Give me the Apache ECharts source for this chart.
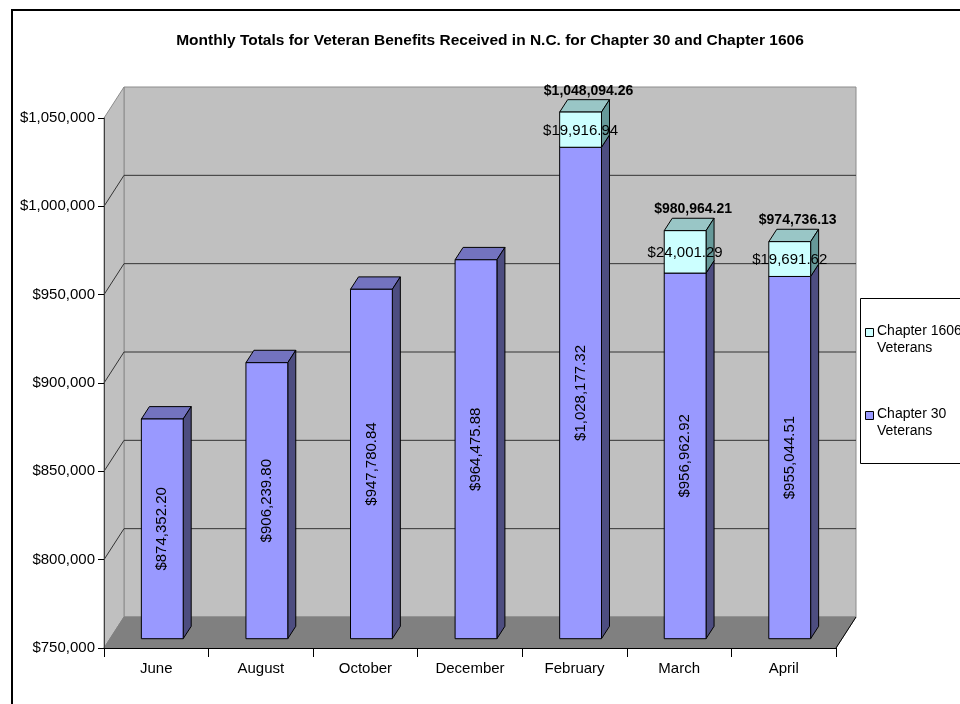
<!DOCTYPE html>
<html><head><meta charset="utf-8">
<script src="https://cdn.jsdelivr.net/npm/echarts@6/dist/echarts.min.js"></script>
<style>html,body{margin:0;padding:0;background:#fff}#c{width:960px;height:704px}</style>
</head><body><div id="c"></div>
<script>
const categories = ['June', 'August', 'October', 'December', 'February', 'March', 'April'];
const chapter30 = [874352.20, 906239.80, 947780.84, 964475.88, 1028177.32, 956962.92, 955044.51];
const chapter1606 = [0, 0, 0, 0, 19916.94, 24001.29, 19691.62];
const yTicks = [750000, 800000, 850000, 900000, 950000, 1000000, 1050000];
const seriesNames = ['Chapter 1606 Veterans', 'Chapter 30 Veterans'];
const titleText = 'Monthly Totals for Veteran Benefits Received in N.C. for Chapter 30 and Chapter 1606';

const DX = 20, DY = -31, D0 = 0.3, D1 = 0.7, BAR_W = 0.40;
const FONT = 'Arial, "Liberation Sans", sans-serif';
const COL30 = {front: '#9999ff', top: '#7373bf', side: '#4d4d80'};
const COL1606 = {front: '#ccffff', top: '#99c6c6', side: '#669999'};
const fmt = v => '$' + v.toLocaleString('en-US', {minimumFractionDigits: 2, maximumFractionDigits: 2});
const fmtAxis = v => '$' + Number(v).toLocaleString('en-US');
const sh = (p, d) => [p[0] + d * DX, p[1] + d * DY];

function renderBackground(params, api) {
  const cs = params.coordSys;
  const x0 = cs.x, x1 = cs.x + cs.width;
  const yb = api.coord([0, yTicks[0]])[1];
  const yt = api.coord([0, yTicks[yTicks.length - 1]])[1];
  const ch = [];
  ch.push({type: 'polygon', shape: {points: [sh([x0, yt], 1), sh([x1, yt], 1), sh([x1, yb], 1), sh([x0, yb], 1)]},
    style: {fill: '#c0c0c0', stroke: '#8c8c8c', lineWidth: 1}});
  ch.push({type: 'polygon', shape: {points: [[x0, yt], sh([x0, yt], 1), sh([x0, yb], 1), [x0, yb]]},
    style: {fill: '#c0c0c0', stroke: '#8c8c8c', lineWidth: 1}});
  ch.push({type: 'polygon', shape: {points: [[x0, yb], sh([x0, yb], 1), sh([x1, yb], 1), [x1, yb]]},
    style: {fill: '#808080', stroke: '#808080', lineWidth: 1}});
  ch.push({type: 'line', shape: {x1: x1, y1: yb, x2: x1 + DX, y2: yb + DY}, style: {stroke: '#000', lineWidth: 1}});
  for (let k = 1; k < yTicks.length - 1; k++) {
    const y = api.coord([0, yTicks[k]])[1];
    ch.push({type: 'polyline', shape: {points: [[x0, y], sh([x0, y], 1), sh([x1, y], 1)]},
      style: {stroke: '#333', lineWidth: 1, fill: null}});
  }
  return {type: 'group', children: ch};
}

function box(api, i, base, top, col, ch) {
  const w = api.size([1, 0])[0] * BAR_W / 2;
  const pb = api.coord([i, base]), pt = api.coord([i, top]);
  const xl = pb[0] - w, xr = pb[0] + w, yb = pb[1], yt = pt[1];
  const st = f => ({fill: f, stroke: '#000', lineWidth: 1, lineJoin: 'round'});
  ch.push({type: 'polygon', shape: {points: [sh([xl, yt], D0), sh([xr, yt], D0), sh([xr, yt], D1), sh([xl, yt], D1)]}, style: st(col.top)});
  ch.push({type: 'polygon', shape: {points: [sh([xr, yt], D0), sh([xr, yt], D1), sh([xr, yb], D1), sh([xr, yb], D0)]}, style: st(col.side)});
  ch.push({type: 'polygon', shape: {points: [sh([xl, yt], D0), sh([xr, yt], D0), sh([xr, yb], D0), sh([xl, yb], D0)]}, style: st(col.front)});
  return {cx: pb[0] + D0 * DX, cy: (yb + yt) / 2 + D0 * DY, tx: pb[0] + D1 * DX, ty: yt + D1 * DY};
}

function render30(params, api) {
  const i = api.value(0), v = api.value(1);
  const ch = [];
  const b = box(api, i, yTicks[0], v, COL30, ch);
  ch.push({type: 'text', x: b.cx, y: b.cy, rotation: Math.PI / 2,
    style: {text: fmt(v), fontSize: 15, fontFamily: FONT, fill: '#000', align: 'center', verticalAlign: 'middle'}});
  return {type: 'group', children: ch};
}

function render1606(params, api) {
  const i = api.value(0), v = api.value(1), base = api.value(2);
  if (!v) return null;
  const ch = [];
  const b = box(api, i, base, base + v, COL1606, ch);
  ch.push({type: 'text', x: b.cx, y: b.cy + 1,
    style: {text: fmt(v), fontSize: 15, fontFamily: FONT, fill: '#000', align: 'center', verticalAlign: 'middle'}});
  ch.push({type: 'text', x: b.tx, y: b.ty - 9,
    style: {text: fmt(base + v), fontSize: 14, fontWeight: 'bold', fontFamily: FONT, fill: '#000', align: 'center', verticalAlign: 'middle'}});
  return {type: 'group', children: ch};
}

const legendX = 860, legendY = 298;
function legendItems() {
  const items = [
    {name: seriesNames[0], color: COL1606.front, y: legendY + 34},
    {name: seriesNames[1], color: COL30.front, y: legendY + 117}
  ];
  const els = [{type: 'rect', left: legendX, top: legendY, shape: {width: 200, height: 165},
    style: {fill: '#fff', stroke: '#000', lineWidth: 1}}];
  items.forEach(it => {
    els.push({type: 'rect', left: legendX + 5, top: it.y - 4, shape: {width: 8, height: 8},
      style: {fill: it.color, stroke: '#000', lineWidth: 1}});
    els.push({type: 'text', left: legendX + 17, top: it.y - 9,
      style: {text: it.name.replace(' Veterans', '\nVeterans'), fontSize: 14, lineHeight: 17, fontFamily: FONT, fill: '#000'}});
  });
  return els;
}

const chart = echarts.init(document.getElementById('c'), null, {renderer: 'canvas'});
chart.setOption({
  backgroundColor: '#fff',
  animation: false,
  title: {text: titleText, left: 490, top: 33, textAlign: 'center', padding: 0,
    textStyle: {fontSize: 15.5, fontWeight: 'bold', fontFamily: FONT, color: '#000'}},
  grid: {left: 104, right: 124, top: 118, bottom: 56, containLabel: false},
  xAxis: {type: 'category', data: categories, z: 10,
    axisLine: {lineStyle: {color: '#000', width: 1}},
    axisTick: {show: true, length: 9, interval: 0, lineStyle: {color: '#000'}},
    axisLabel: {fontSize: 15, fontFamily: FONT, color: '#000', margin: 13, interval: 0}},
  yAxis: {type: 'value', min: yTicks[0], max: yTicks[yTicks.length - 1], interval: 50000, z: 10,
    axisLine: {show: true, lineStyle: {color: '#404040', width: 1}},
    axisTick: {show: true, length: 6, lineStyle: {color: '#000'}},
    splitLine: {show: false},
    axisLabel: {fontSize: 15, fontFamily: FONT, color: '#000', margin: 9, formatter: fmtAxis}},
  graphic: [
    {type: 'rect', left: 11, top: 9, shape: {width: 1000, height: 1000}, style: {fill: 'transparent', stroke: '#000', lineWidth: 2}, z: -10, silent: true}
  ].concat(legendItems()),
  series: [
    {type: 'custom', name: 'background', z: 1, silent: true, renderItem: renderBackground, data: [[0, yTicks[0]]]},
    {type: 'custom', name: seriesNames[1], z: 3, renderItem: render30,
      data: chapter30.map((v, i) => [i, v])},
    {type: 'custom', name: seriesNames[0], z: 4, renderItem: render1606,
      data: chapter1606.map((v, i) => [i, v, chapter30[i]])}
  ]
});
</script></body></html>
